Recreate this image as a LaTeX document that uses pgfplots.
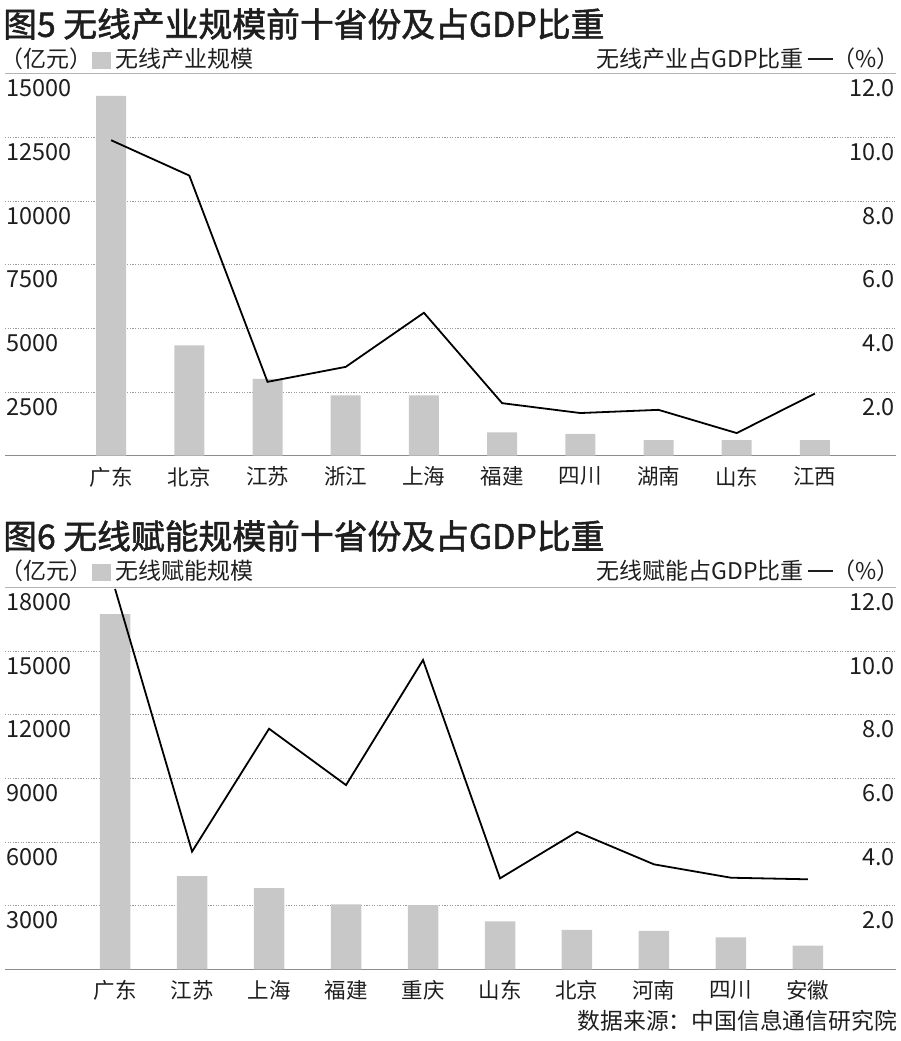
\documentclass[border=0pt]{standalone}
\usepackage{fontspec}
\setmainfont{Noto Sans CJK SC}
\newfontfamily\titlefont{Noto Sans CJK SC}[FakeBold=1.6]
\usepackage{pgfplots}
\pgfplotsset{compat=1.18}
\definecolor{barc}{HTML}{C8C8C8}
\definecolor{gridc}{HTML}{9A9A9A}
\definecolor{topc}{HTML}{B4B4B4}
\definecolor{axc}{HTML}{8C8C8C}
\definecolor{txt}{HTML}{1E1E1E}
\newcommand{\fs}[1]{\fontsize{#1}{#1}\selectfont}

\pgfplotsset{
  base/.style={
    scale only axis, width=891pt, height=382pt, anchor=south west,
    ymin=0, scaled y ticks=false, scaled x ticks=false,
    major tick length=0pt,
    tick label style={text=txt, inner sep=0pt},
  },
  leftax/.style={base,
    axis x line*=bottom, axis y line*=left,
    x axis line style={draw=axc, line width=1.2pt, -},
    y axis line style={draw=none},
    xtick={0,...,9},
    xticklabel style={anchor=north, yshift=-11pt, font=\fs{21.5pt}},
    yticklabel style={anchor=north west, xshift=1pt, yshift=-6pt, font=\fs{23.5pt}},
    ymajorgrids,
    major grid style={draw=gridc, line width=0.6pt, dash pattern=on 1.2pt off 1.4pt},
  },
  rightax/.style={base,
    axis x line=none, axis y line*=right,
    y axis line style={draw=none},
    ymax=12, ytick={2,4,...,12}, yticklabels={2.0,4.0,6.0,8.0,10.0,12.0},
    yticklabel style={anchor=north east, xshift=-1pt, yshift=-6pt, font=\fs{23.5pt}},
  },
}

\pgfplotstableread{
x bar pct
0 14130 9.91
1 4330 8.80
2 3020 2.32
3 2370 2.79
4 2370 4.49
5 920 1.65
6 860 1.34
7 610 1.44
8 610 0.71
9 610 1.95
}\dataA

\pgfplotstableread{
x bar pct
0 16740 11.95
1 4400 3.70
2 3830 7.56
3 3060 5.79
4 3030 9.72
5 2260 2.86
6 1860 4.32
7 1820 3.30
8 1510 2.88
9 1120 2.83
}\dataB

\begin{document}
\begin{tikzpicture}
\useasboundingbox (0pt,0pt) rectangle (900pt,1041pt);

% ---------- Panel 1 ----------
\node[anchor=west, inner sep=0pt, text=txt, font=\fs{33.8pt}\titlefont] at (3pt,1017pt) {图5 无线产业规模前十省份及占GDP比重};
\node[anchor=west, inner sep=0pt, text=txt, font=\fs{23pt}] at (0pt,982pt) {（亿元）\textcolor{barc}{\rule[-1pt]{19pt}{17pt}}\,无线产业规模};
\node[anchor=east, inner sep=0pt, text=txt, font=\fs{23pt}] at (900pt,982pt) {无线产业占GDP比重\,\rule[7.5pt]{25pt}{1.8pt}（\%）};

\begin{axis}[leftax, at={(5pt,585.3pt)},
  xmin=-1.357, xmax=10.037, ymax=15000,
  ytick={2500,5000,...,15000},
  yticklabels={2500,5000,7500,10000,12500,15000},
  xticklabels={广东,北京,江苏,浙江,上海,福建,四川,湖南,山东,江西},
  extra y ticks={15000}, extra y tick labels={},
  extra y tick style={major grid style={solid, draw=topc, line width=0.9pt}},
]
\addplot[ybar, bar width=30pt, fill=barc, draw=none] table[x=x, y=bar] {\dataA};
\end{axis}
\begin{axis}[rightax, at={(5pt,585.3pt)},
  xmin=-1.357, xmax=10.037,
]
\addplot[black, line width=1.8pt, no markers, line join=miter] table[x=x, y=pct] {\dataA};
\end{axis}

% ---------- Panel 2 ----------
\node[anchor=west, inner sep=0pt, text=txt, font=\fs{33.8pt}\titlefont] at (3pt,505pt) {图6 无线赋能规模前十省份及占GDP比重};
\node[anchor=west, inner sep=0pt, text=txt, font=\fs{23pt}] at (0pt,470pt) {（亿元）\textcolor{barc}{\rule[-1pt]{19pt}{17pt}}\,无线赋能规模};
\node[anchor=east, inner sep=0pt, text=txt, font=\fs{23pt}] at (900pt,470pt) {无线赋能占GDP比重\,\rule[7.5pt]{25pt}{1.8pt}（\%）};

\begin{axis}[leftax, at={(5pt,71.6pt)},
  xmin=-1.430, xmax=10.144, ymax=18000,
  ytick={3000,6000,...,18000},
  yticklabels={3000,6000,9000,12000,15000,18000},
  xticklabels={广东,江苏,上海,福建,重庆,山东,北京,河南,四川,安徽},
  extra y ticks={18000}, extra y tick labels={},
  extra y tick style={major grid style={solid, draw=topc, line width=0.9pt}},
]
\addplot[ybar, bar width=30.5pt, fill=barc, draw=none] table[x=x, y=bar] {\dataB};
\end{axis}
\begin{axis}[rightax, at={(5pt,71.6pt)},
  xmin=-1.430, xmax=10.144,
]
\addplot[black, line width=1.8pt, no markers, line join=miter] table[x=x, y=pct] {\dataB};
\end{axis}

\node[anchor=east, inner sep=0pt, text=txt, font=\fs{22.8pt}] at (897pt,20pt) {数据来源：中国信息通信研究院};
\end{tikzpicture}
\end{document}
